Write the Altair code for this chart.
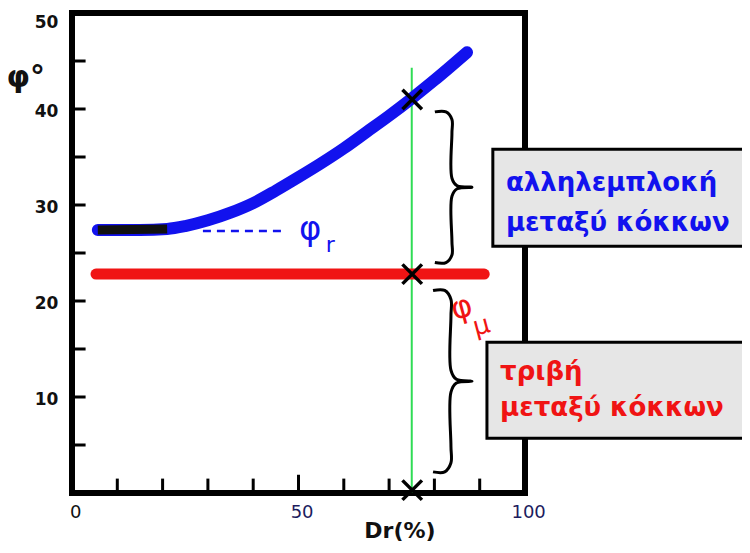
import altair as alt
import pandas as pd

# ---- data ----
curve_x = [5.7, 15, 21, 25, 30, 35, 40, 45, 50, 55, 60, 65, 70, 75, 80, 87.2]
curve_y = [27.4, 27.4, 27.5, 27.8, 28.4, 29.2, 30.2, 31.5, 32.9, 34.35, 35.9, 37.6, 39.3, 41.1, 43.0, 45.9]
flat_x = [5.7, 21.0]
flat_y = [27.4, 27.5]
red_x = [5.3, 91.0]
red_y = [22.8, 22.8]
dr_value = 75.0
green_top = 44.3
marker_x = [75.1, 75.1, 75.1]
marker_y = [41.0, 22.8, 0.3]
x_tick_vals = [10, 20, 30, 40, 50, 60, 70, 80, 90]
y_tick_vals = [5, 10, 15, 20, 25, 30, 35, 40, 45]
x_label_vals = [0, 50, 100]
x_label_text = ["0", "50", "100"]
y_label_vals = [10, 20, 30, 40, 50]
y_label_text = ["10", "20", "30", "40", "50"]
dash_x = [28.9, 46.4]
dash_y = [27.3, 27.3]

blue_lines = ["αλληλεμπλοκή", "μεταξύ  κόκκων"]
red_lines = ["τριβή", "μεταξύ  κόκκων"]

W, H = 453, 480
xs = alt.Scale(domain=[0, 100], nice=False, zero=False)
ys = alt.Scale(domain=[0, 50], nice=False, zero=False)
FONT = "DejaVu Sans"
BLUE = "#1212ee"
RED = "#f01414"


def xq(f="x"):
    return alt.X(f"{f}:Q", scale=xs, axis=None)


def yq(f="y"):
    return alt.Y(f"{f}:Q", scale=ys, axis=None)


# frame
frame_df = pd.DataFrame({"x": [0, 0, 0, 100], "y": [0, 0, 50, 0],
                         "x2": [0, 100, 100, 100], "y2": [50, 0, 50, 50]})
frame = alt.Chart(frame_df).mark_rule(color="black", strokeWidth=6, strokeCap="square").encode(
    x=xq(), y=yq(), x2="x2:Q", y2="y2:Q")

# ticks (inward)
xt_df = pd.DataFrame({"x": x_tick_vals, "y": [0] * len(x_tick_vals),
                      "y2": [1.9 if v == 50 else 1.5 for v in x_tick_vals]})
xticks = alt.Chart(xt_df).mark_rule(color="black", strokeWidth=3).encode(x=xq(), y=yq(), y2="y2:Q")
yt_df = pd.DataFrame({"y": y_tick_vals, "x": [0] * len(y_tick_vals), "x2": [3.0] * len(y_tick_vals)})
yticks = alt.Chart(yt_df).mark_rule(color="black", strokeWidth=3).encode(y=yq(), x=xq(), x2="x2:Q")

# tick labels
xl_df = pd.DataFrame({"t": x_label_text, "v": x_label_vals, "c": ["#111111", "#1c1c5e", "#1c1c5e"]})
xlabels = alt.Chart(xl_df).transform_calculate(x="datum.v + 0.8", y="-2.1").mark_text(
    align="center", baseline="middle", font=FONT, fontSize=18).encode(
    x=xq(), y=yq(), text="t:N", color=alt.Color("c:N", scale=None, legend=None))
yl_df = pd.DataFrame({"t": y_label_text, "v": y_label_vals})
ylabels = alt.Chart(yl_df).transform_calculate(x="-3.0", y="min(datum.v - 0.3, 49.0)").mark_text(
    align="right", baseline="middle", font=FONT, fontSize=17, fontWeight="bold", color="#111").encode(
    x=xq(), y=yq(), text="t:N")

# green vertical line
green = alt.Chart(pd.DataFrame({"x": [dr_value], "y": [0], "y2": [green_top]})).mark_rule(
    color="#2fdc55", strokeWidth=2).encode(x=xq(), y=yq(), y2="y2:Q")

# red line
red = alt.Chart(pd.DataFrame({"x": red_x, "y": red_y})).mark_line(
    color=RED, strokeWidth=11, strokeCap="round").encode(x=xq(), y=yq())

# blue curve
blue = alt.Chart(pd.DataFrame({"x": curve_x, "y": curve_y})).mark_line(
    color=BLUE, strokeWidth=12, strokeCap="round", interpolate="monotone").encode(x=xq(), y=yq())
flat = alt.Chart(pd.DataFrame({"x": flat_x, "y": flat_y})).mark_line(
    color="#111111", strokeWidth=9, strokeCap="butt").encode(x=xq(), y=yq())

# dashed phi_r line
dash = alt.Chart(pd.DataFrame({"x": dash_x, "y": dash_y})).mark_line(
    color=BLUE, strokeWidth=2.5, strokeDash=[8, 6]).encode(x=xq(), y=yq())

# X markers
markers = alt.Chart(pd.DataFrame({"x": marker_x, "y": marker_y})).mark_point(
    shape="M-1,-1L1,1M-1,1L1,-1", filled=False, stroke="black", strokeWidth=3.5, size=380, opacity=1
).encode(x=xq(), y=yq())

# braces
brace_u = [0, 0.3, 0.46, 0.46, 0.46, 0.6, 1.0, 0.6, 0.46, 0.46, 0.46, 0.3, 0]
brace_v = [0, 0.0, 0.05, 0.14, 0.44, 0.49, 0.5, 0.51, 0.56, 0.86, 0.95, 1.0, 1.0]
braces = [("a", 80.1, 88.3, 39.7, 24.0), ("b", 79.7, 88.3, 21.1, 2.2)]
rows = []
for bid, x0, x1, ytop, ybot in braces:
    for i, (u, v) in enumerate(zip(brace_u, brace_v)):
        rows.append({"b": bid, "i": i, "x": x0 + u * (x1 - x0), "y": ytop + v * (ybot - ytop)})
brace = alt.Chart(pd.DataFrame(rows)).mark_line(
    color="black", strokeWidth=3, interpolate="catmull-rom").encode(
    x=xq(), y=yq(), detail="b:N", order="i:Q")

# boxes
box_df = pd.DataFrame({"x": [92.9, 91.6], "x2": [152, 152], "y": [35.8, 15.7], "y2": [25.7, 5.7]})
boxes = alt.Chart(box_df).mark_rect(fill="#e6e6e6", stroke="black", strokeWidth=3).encode(
    x=xq(), x2="x2:Q", y=yq(), y2="y2:Q")

blue_txt = alt.Chart(pd.DataFrame({"t": blue_lines, "x": [95.8, 95.8], "y": [32.3, 28.1]})).mark_text(
    align="left", baseline="middle", font=FONT, fontSize=26, fontWeight="bold", color=BLUE).encode(
    x=xq(), y=yq(), text="t:N")
red_txt = alt.Chart(pd.DataFrame({"t": red_lines, "x": [94.5, 94.5], "y": [12.6, 8.9]})).mark_text(
    align="left", baseline="middle", font=FONT, fontSize=26, fontWeight="bold", color=RED).encode(
    x=xq(), y=yq(), text="t:N")

# phi labels
phir = alt.Chart(pd.DataFrame({"t": ["φ", "r"], "x": [52.6, 57.0], "y": [27.4, 25.8],
                               "s": [34, 22]})).mark_text(
    align="center", baseline="middle", font=FONT, color=BLUE).encode(
    x=xq(), y=yq(), text="t:N", size=alt.Size("s:Q", scale=None, legend=None))
phim = alt.Chart(pd.DataFrame({"t": ["φ", "μ"], "x": [86.0, 90.4], "y": [19.3, 17.4],
                               "s": [32, 26]})).mark_text(
    align="center", baseline="middle", font=FONT, color=RED, angle=345).encode(
    x=xq(), y=yq(), text="t:N", size=alt.Size("s:Q", scale=None, legend=None))

# axis titles
titles = alt.Chart(pd.DataFrame({"t": ["φ°", "Dr(%)"], "x": [-10.2, 72.4], "y": [43.2, -4.0],
                                 "s": [30, 22]})).mark_text(
    align="center", baseline="middle", font=FONT, fontWeight="bold", color="#111").encode(
    x=xq(), y=yq(), text="t:N", size=alt.Size("s:Q", scale=None, legend=None))

chart = alt.layer(
    frame, xticks, yticks, xlabels, ylabels, green, red, blue, flat, dash, markers, brace, boxes,
    blue_txt, red_txt, phir, phim, titles
).properties(
    width=W, height=H, autosize="none",
    padding={"left": 64, "top": 5, "right": 217, "bottom": 52},
    background="white"
).configure_view(stroke=None)

chart.save("out.html", embed_options={"renderer": "svg", "actions": False})
